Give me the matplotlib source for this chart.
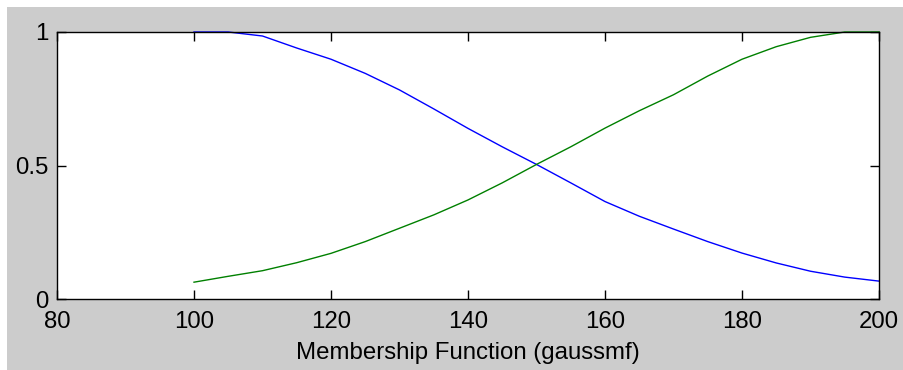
import matplotlib
matplotlib.use('Agg')
import matplotlib.pyplot as plt
from matplotlib.patches import Rectangle

# Values
x_vals = [100, 105, 110, 115, 120, 125, 130, 135, 140, 145, 150,
          155, 160, 165, 170, 175, 180, 185, 190, 195, 200]
mf_low = [1.0, 1.0, 0.985, 0.94, 0.898, 0.845, 0.783, 0.712, 0.639, 0.57, 0.504,
          0.435, 0.365, 0.31, 0.262, 0.215, 0.172, 0.135, 0.104, 0.082, 0.067]
mf_high = [0.063, 0.085, 0.106, 0.136, 0.171, 0.215, 0.265, 0.315, 0.371, 0.435, 0.504,
           0.57, 0.64, 0.705, 0.765, 0.835, 0.898, 0.945, 0.98, 1.0, 1.0]
x_ticks = [80, 100, 120, 140, 160, 180, 200]
y_ticks = [0, 0.5, 1]
y_tick_labels = ['0', '0.5', '1']

plt.rcParams['font.family'] = ['Liberation Sans', 'DejaVu Sans']

W, H = 904, 370
fig = plt.figure(figsize=(W / 100, H / 100), dpi=100, facecolor='white')

# grey figure area with a thin white strip on top and left
fig.patches.append(Rectangle((7 / W, -0.01), 1, 1.01 - 7 / H, transform=fig.transFigure,
                             facecolor='#cccccc', edgecolor='none', zorder=-10))

ax = fig.add_axes([57 / W, 1 - 299 / H, (879 - 57) / W, (299 - 32) / H])
ax.set_facecolor('white')

ax.plot(x_vals, mf_low, color='#0000ff', lw=1.0, clip_on=False)
ax.plot(x_vals, mf_high, color='#008000', lw=1.0, clip_on=False)

ax.set_xlim(80, 200)
ax.set_ylim(0, 1)
ax.set_xticks(x_ticks)
ax.set_yticks(y_ticks)
ax.set_yticklabels(y_tick_labels)

ax.tick_params(direction='in', length=6.5, width=1, top=True, right=True,
               labelsize=17.3, colors='black')
ax.tick_params(axis='x', pad=9)
ax.tick_params(axis='y', pad=6)
for s in ax.spines.values():
    s.set_linewidth(1)
    s.set_color('black')

ax.set_xlabel('Membership Function (gaussmf)', fontsize=17.3, labelpad=6)

plt.savefig('out.png', dpi=100, facecolor=fig.get_facecolor())
